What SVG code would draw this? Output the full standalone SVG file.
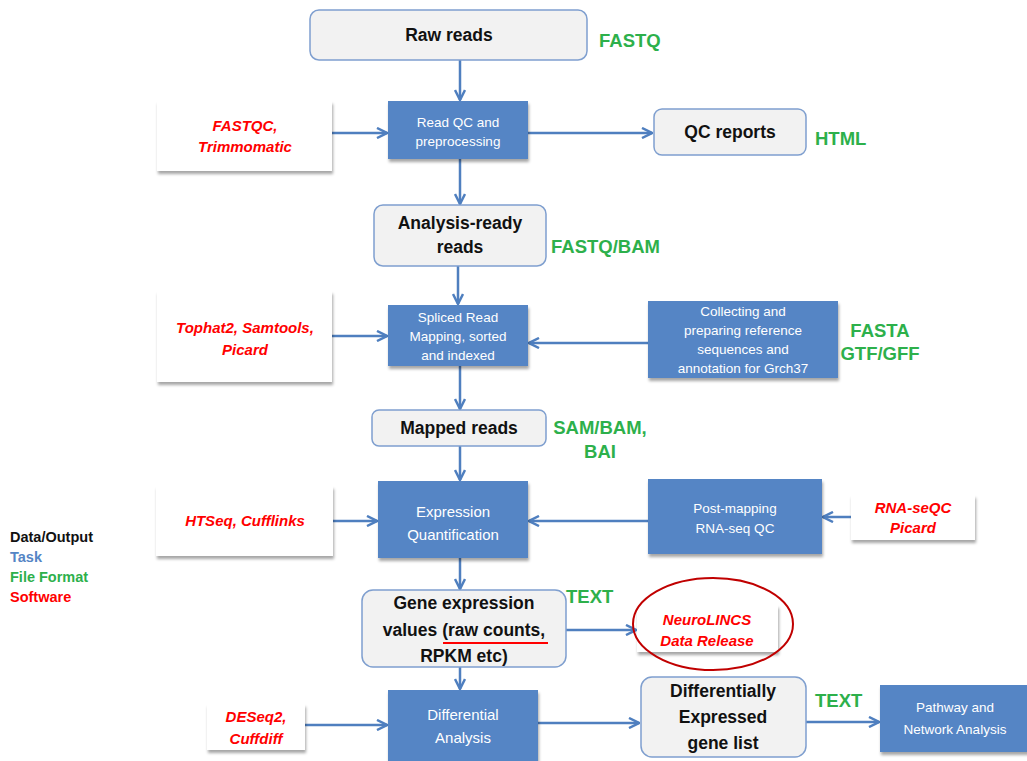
<svg xmlns="http://www.w3.org/2000/svg" width="1027" height="761" viewBox="0 0 1027 761">
<defs>
<filter id="sh" x="-10%" y="-10%" width="130%" height="140%">
<feDropShadow dx="1" dy="3" stdDeviation="1.5" flood-color="#000" flood-opacity="0.35"/>
</filter>
<marker id="ah" viewBox="0 0 10 10" refX="9" refY="5" markerWidth="5" markerHeight="5" orient="auto" markerUnits="strokeWidth">
<path d="M1,1 L9,5 L1,9" fill="none" stroke="#4f7fbf" stroke-width="2"/>
</marker>
<style>
.task{fill:#5585c5;filter:url(#sh)}
.data{fill:#f2f2f2;stroke:#7f9fcf;stroke-width:1.5}
.soft{fill:#fff;filter:url(#sh)}
.tt{fill:#fff;font-family:"Liberation Sans",Arial,sans-serif;font-size:13.5px;text-anchor:middle}
.tq{fill:#fff;font-family:"Liberation Sans",Arial,sans-serif;font-size:15px;text-anchor:middle}
.dt{fill:#111;font-family:"Liberation Sans",Arial,sans-serif;font-size:17.5px;font-weight:bold;text-anchor:middle}
.st{fill:#ff0000;font-family:"Liberation Sans",Arial,sans-serif;font-size:15px;font-weight:bold;font-style:italic;text-anchor:middle}
.ff{fill:#2db04b;font-family:"Liberation Sans",Arial,sans-serif;font-size:18.5px;font-weight:bold}
.lg{font-family:"Liberation Sans",Arial,sans-serif;font-size:14.5px;font-weight:bold}
.cn{stroke:#4f7fbf;stroke-width:2.5;fill:none;marker-end:url(#ah)}
</style>
</defs>
<rect width="1027" height="761" fill="#fff"/>

<g id="connectors">
<line class="cn" x1="460" y1="60" x2="460" y2="100"/>
<line class="cn" x1="332" y1="133" x2="387" y2="133"/>
<line class="cn" x1="528" y1="133" x2="652" y2="133"/>
<line class="cn" x1="460" y1="159" x2="460" y2="204"/>
<line class="cn" x1="458" y1="266" x2="458" y2="304"/>
<line class="cn" x1="332" y1="336" x2="387" y2="336"/>
<line class="cn" x1="648" y1="343" x2="529" y2="343"/>
<line class="cn" x1="460" y1="366" x2="460" y2="409"/>
<line class="cn" x1="460" y1="446" x2="460" y2="480"/>
<line class="cn" x1="333" y1="521" x2="377" y2="521"/>
<line class="cn" x1="648" y1="521" x2="529" y2="521"/>
<line class="cn" x1="851" y1="517" x2="823" y2="517"/>
<line class="cn" x1="460" y1="558" x2="460" y2="589"/>
<line class="cn" x1="566" y1="630" x2="636" y2="630"/>
<line class="cn" x1="460" y1="667" x2="460" y2="689"/>
<line class="cn" x1="305" y1="725" x2="387" y2="725"/>
<line class="cn" x1="538" y1="723" x2="639" y2="723"/>
<line class="cn" x1="806" y1="722" x2="879" y2="722"/>
</g>

<g id="raw-reads">
<rect class="data" x="310" y="10" width="277" height="50" rx="9"/>
<text class="dt" x="449" y="41">Raw reads</text>
<text class="ff" x="599" y="47">FASTQ</text>
</g>

<g id="read-qc">
<rect class="task" x="388" y="101" width="140" height="58"/>
<text class="tt" x="458" y="127">Read QC and</text>
<text class="tt" x="458" y="146">preprocessing</text>
</g>

<g id="fastqc">
<rect class="soft" x="157" y="101" width="175" height="70"/>
<text class="st" x="245" y="131">FASTQC,</text>
<text class="st" x="245" y="152">Trimmomatic</text>
</g>

<g id="qc-reports">
<rect class="data" x="654" y="109" width="152" height="46" rx="8"/>
<text class="dt" x="730" y="138">QC reports</text>
<text class="ff" x="815" y="145">HTML</text>
</g>

<g id="analysis-ready">
<rect class="data" x="374" y="205" width="172" height="61" rx="9"/>
<text class="dt" x="460" y="229">Analysis-ready</text>
<text class="dt" x="460" y="253">reads</text>
<text class="ff" x="551" y="253">FASTQ/BAM</text>
</g>

<g id="spliced-mapping">
<rect class="task" x="388" y="305" width="140" height="61"/>
<text class="tt" x="458" y="322">Spliced Read</text>
<text class="tt" x="458" y="341">Mapping, sorted</text>
<text class="tt" x="458" y="360">and indexed</text>
</g>

<g id="tophat">
<rect class="soft" x="157" y="291" width="175" height="91"/>
<text class="st" x="245" y="333">Tophat2, Samtools,</text>
<text class="st" x="245" y="355">Picard</text>
</g>

<g id="reference">
<rect class="task" x="648" y="301" width="190" height="77"/>
<text class="tt" x="743" y="316">Collecting and</text>
<text class="tt" x="743" y="335">preparing reference</text>
<text class="tt" x="743" y="354">sequences and</text>
<text class="tt" x="743" y="373">annotation for Grch37</text>
<text class="ff" x="880" y="337" text-anchor="middle">FASTA</text>
<text class="ff" x="880" y="360" text-anchor="middle">GTF/GFF</text>
</g>

<g id="mapped-reads">
<rect class="data" x="372" y="410" width="174" height="36" rx="7"/>
<text class="dt" x="459" y="434">Mapped reads</text>
<text class="ff" x="600" y="434" text-anchor="middle">SAM/BAM,</text>
<text class="ff" x="600" y="458" text-anchor="middle">BAI</text>
</g>

<g id="expression-quant">
<rect class="task" x="378" y="481" width="150" height="77"/>
<text class="tq" x="453" y="517">Expression</text>
<text class="tq" x="453" y="540">Quantification</text>
</g>

<g id="htseq">
<rect class="soft" x="156" y="486" width="177" height="70"/>
<text class="st" x="245" y="526">HTSeq, Cufflinks</text>
</g>

<g id="post-mapping">
<rect class="task" x="648" y="479" width="174" height="75"/>
<text class="tt" x="735" y="513">Post-mapping</text>
<text class="tt" x="735" y="533">RNA-seq QC</text>
</g>

<g id="rnaseqc">
<rect class="soft" x="851" y="495" width="124" height="45"/>
<text class="st" x="913" y="513">RNA-seQC</text>
<text class="st" x="913" y="533">Picard</text>
</g>

<g id="legend">
<text class="lg" x="10" y="542" fill="#111">Data/Output</text>
<text class="lg" x="10" y="562" fill="#5585c5">Task</text>
<text class="lg" x="10" y="582" fill="#2db04b">File Format</text>
<text class="lg" x="10" y="602" fill="#ff0000">Software</text>
</g>

<g id="gene-expression">
<rect class="data" x="362" y="590" width="204" height="77" rx="11"/>
<text class="dt" x="464" y="609">Gene expression</text>
<text class="dt" x="464" y="636">values (raw counts,</text>
<text class="dt" x="464" y="662">RPKM etc)</text>
<line x1="443" y1="643" x2="548" y2="643" stroke="#ff0000" stroke-width="2"/>
<text class="ff" x="566" y="603">TEXT</text>
</g>

<g id="neurolincs">
<rect class="soft" x="637" y="605" width="141" height="47"/>
<text class="st" x="707" y="625">NeuroLINCS</text>
<text class="st" x="707" y="646">Data Release</text>
<ellipse cx="713" cy="624" rx="80" ry="46" fill="none" stroke="#c00000" stroke-width="2"/>
</g>

<g id="differential">
<rect class="task" x="388" y="690" width="150" height="71"/>
<text class="tq" x="463" y="720">Differential</text>
<text class="tq" x="463" y="743">Analysis</text>
</g>

<g id="deseq">
<rect class="soft" x="207" y="704" width="98" height="46"/>
<text class="st" x="256" y="722">DESeq2,</text>
<text class="st" x="256" y="744">Cuffdiff</text>
</g>

<g id="de-genes">
<rect class="data" x="641" y="677" width="165" height="80" rx="11"/>
<text class="dt" x="723" y="697">Differentially</text>
<text class="dt" x="723" y="723">Expressed</text>
<text class="dt" x="723" y="749">gene list</text>
<text class="ff" x="815" y="707">TEXT</text>
</g>

<g id="pathway">
<rect class="task" x="880" y="685" width="150" height="67"/>
<text class="tt" x="955" y="712" font-size="14">Pathway and</text>
<text class="tt" x="955" y="734" font-size="14">Network Analysis</text>
</g>
</svg>
